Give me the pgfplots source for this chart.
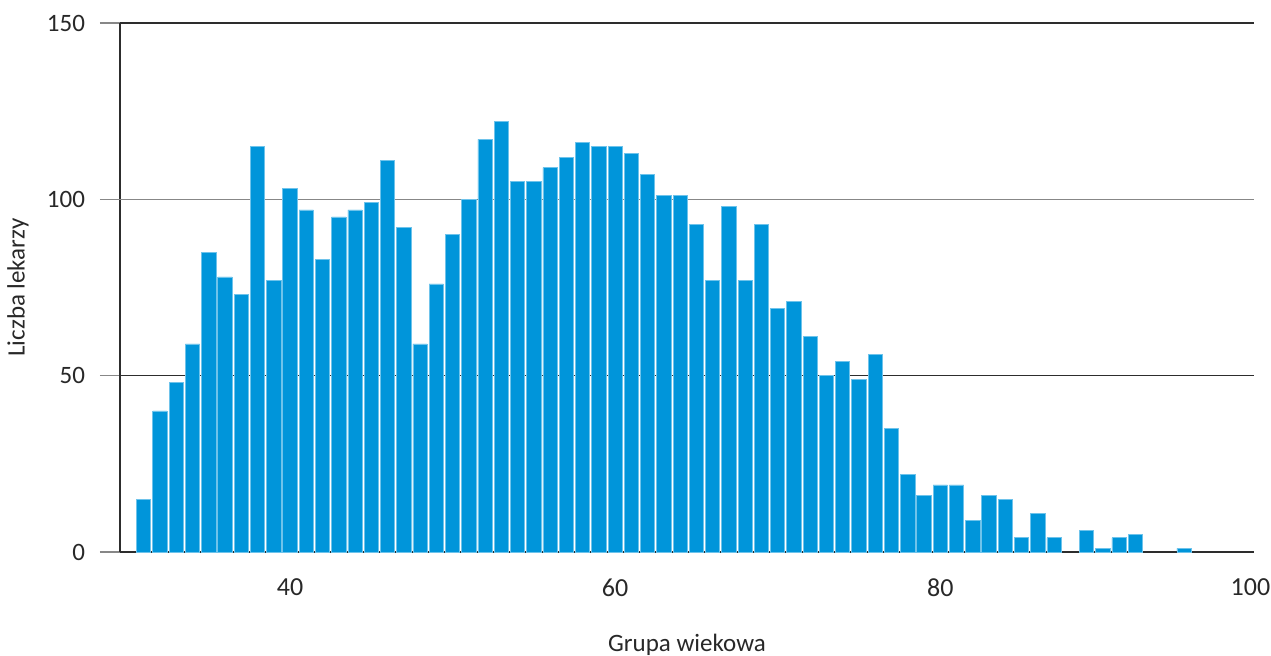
\documentclass[border=0pt]{standalone}
\usepackage{pgfplots}
\pgfplotsset{compat=1.18}
\usepackage{fontspec}
\setmainfont{Carlito}
\definecolor{barblue}{RGB}{0,149,218}
\definecolor{baredge}{RGB}{110,195,235}
\definecolor{txt}{RGB}{40,40,40}
\definecolor{darkline}{RGB}{45,45,45}
\definecolor{grayline}{RGB}{135,135,135}
\begin{document}
\begin{tikzpicture}
\useasboundingbox (-60pt,-52pt) rectangle (575.5pt,276pt);
\begin{axis}[
  at={(0,0)}, anchor=south west,
  width=567pt, height=264.5pt, scale only axis,
  xmin=29.54, xmax=99.3, ymin=0, ymax=150,
  axis x line=bottom, axis y line=left,
  axis line style={darkline, line width=0.8pt, -},
  xtick={40,60,80,99.08}, xticklabels={40,60,80,100},
  ytick={0,50,150}, extra y ticks={100},
  extra y tick style={grid style={grayline, line width=0.8pt}},
  ymajorgrids, grid style={darkline, line width=0.8pt},
  x tick style={draw=none},
  y tick style={draw=grayline, line width=0.8pt}, major tick length=10pt,
  tick align=outside,
  /pgf/number format/assume math mode=true,
  tick label style={font=\fontsize{12.5}{14}\selectfont, text=txt},
  xticklabel style={font=\fontsize{13}{15}\selectfont, yshift=0pt},
  yticklabel style={xshift=-4pt},
  xlabel={Grupa wiekowa}, ylabel={Liczba lekarzy},
  label style={font=\fontsize{12.5}{14}\selectfont, text=txt},
  xlabel style={at={(axis description cs:0.5,0)}, anchor=center, yshift=-46.5pt},
  ylabel style={at={(axis description cs:0,0.5)}, anchor=center, yshift=51pt},
  axis on top=false,
  clip=false,
]
\addplot[ybar, bar width=0.88, fill=barblue, draw=baredge, line width=0.4pt] coordinates {
(31,15) (32,40) (33,48) (34,59) (35,85) (36,78) (37,73) (38,115) (39,77) (40,103)
(41,97) (42,83) (43,95) (44,97) (45,99) (46,111) (47,92) (48,59) (49,76) (50,90)
(51,100) (52,117) (53,122) (54,105) (55,105) (56,109) (57,112) (58,116) (59,115) (60,115)
(61,113) (62,107) (63,101) (64,101) (65,93) (66,77) (67,98) (68,77) (69,93) (70,69)
(71,71) (72,61) (73,50) (74,54) (75,49) (76,56) (77,35) (78,22) (79,16) (80,19)
(81,19) (82,9) (83,16) (84,15) (85,4) (86,11) (87,4) (89,6) (90,1)
(91,4) (92,5) (95,1)
};
\end{axis}
\end{tikzpicture}
\end{document}
